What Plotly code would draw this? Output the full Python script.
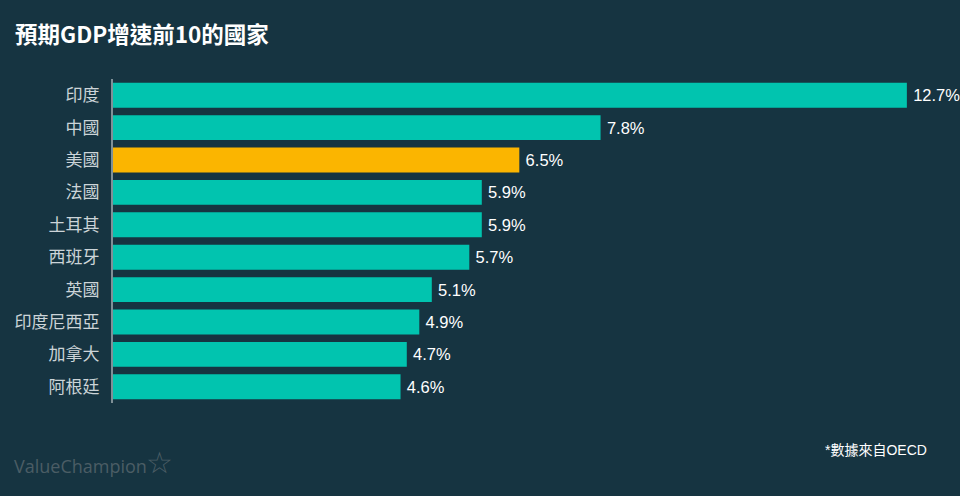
import plotly.graph_objects as go

countries = ["印度", "中國", "美國", "法國", "土耳其", "西班牙", "英國", "印度尼西亞", "加拿大", "阿根廷"]
growth = [12.7, 7.8, 6.5, 5.9, 5.9, 5.7, 5.1, 4.9, 4.7, 4.6]
highlight = "美國"

BG = "#163441"
TEAL = "#01C4AF"
ORANGE = "#FBB500"
FONT = "Noto Sans CJK TC"
NUMFONT = "Liberation Sans, Noto Sans CJK TC"

colors = [ORANGE if c == highlight else TEAL for c in countries]
labels = [f"\u2009{v:.1f}%" for v in growth]

fig = go.Figure(go.Bar(
    x=growth, y=countries, orientation="h",
    marker=dict(color=colors, line=dict(width=0)),
    text=labels, textposition="outside", cliponaxis=False,
    constraintext="none",
    textfont=dict(family=NUMFONT, size=16.5, color="#ffffff"),
    hoverinfo="skip",
))

fig.update_layout(
    width=960, height=496,
    paper_bgcolor=BG, plot_bgcolor=BG,
    margin=dict(l=113, r=0, t=79, b=93),
    bargap=0.23,
    showlegend=False,
    font=dict(family=FONT),
    xaxis=dict(range=[0, 13.55], visible=False, fixedrange=True),
    yaxis=dict(
        autorange="reversed", showgrid=False, zeroline=False,
        showline=True, linecolor="#7f9097", linewidth=2,
        ticks="", ticklabelstandoff=8,
        tickfont=dict(family=FONT, size=17, color="#ccd4d8"),
    ),
    annotations=[
        dict(text="<b>預期GDP增速前10的國家</b>", x=13, y=33,
             showarrow=False, xanchor="left", yanchor="middle",
             font=dict(family=FONT, size=22.5, color="#ffffff")),
        dict(text="*數據來自OECD", x=929, y=450, showarrow=False,
             xanchor="right", yanchor="middle",
             font=dict(family=NUMFONT, size=14, color="#ffffff")),
        dict(text="ValueChampion", x=12, y=466, showarrow=False,
             xanchor="left", yanchor="middle",
             font=dict(family="Open Sans", size=18, color="#4b5d65")),
        dict(text="☆", x=144, y=462, showarrow=False,
             xanchor="left", yanchor="middle",
             font=dict(family="DejaVu Sans", size=30, color="#4b5d65")),
    ],
)

# convert pixel-positioned annotations to paper coords
W, H = 960, 496
ml, mr, mt, mb = 113, 0, 79, 93
pw, ph = W - ml - mr, H - mt - mb
for a in fig.layout.annotations:
    a.xref = "paper"; a.yref = "paper"
    a.x = (a.x - ml) / pw
    a.y = (H - mb - a.y) / ph

fig.write_html("out.html")
